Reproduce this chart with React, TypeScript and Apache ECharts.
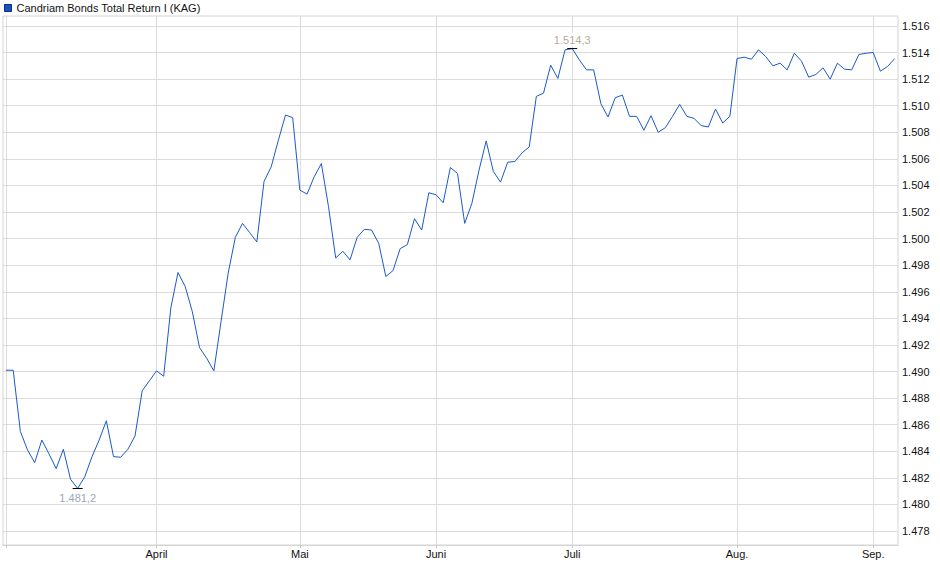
import React, { useEffect, useRef } from 'react';
import * as echarts from 'echarts';

const seriesName = 'Candriam Bonds Total Return I (KAG)';

// Daily prices (trading-day index 0..124)
const prices: number[] = [
  1490.1, 1490.1, 1485.5, 1484.1, 1483.15, 1484.85, 1483.8, 1482.7, 1484.15, 1481.9,
  1481.2, 1482.1, 1483.6, 1484.85, 1486.3, 1483.6, 1483.55, 1484.15, 1485.15, 1488.55,
  1489.3, 1490.05, 1489.65, 1494.8, 1497.45, 1496.4, 1494.5, 1491.8, 1491.0, 1490.05,
  1493.75, 1497.4, 1500.1, 1501.15, 1500.45, 1499.75, 1504.3, 1505.4, 1507.4, 1509.3,
  1509.1, 1503.65, 1503.35, 1504.65, 1505.65, 1502.4, 1498.55, 1499.05, 1498.4, 1500.1,
  1500.7, 1500.65, 1499.65, 1497.15, 1497.6, 1499.25, 1499.55, 1501.5, 1500.65, 1503.45,
  1503.3, 1502.7, 1505.35, 1504.9, 1501.15, 1502.65, 1505.15, 1507.35, 1505.05, 1504.25,
  1505.75, 1505.8, 1506.45, 1506.9, 1510.7, 1510.95, 1513.05, 1512.05, 1514.2, 1514.3,
  1513.45, 1512.7, 1512.7, 1510.15, 1509.15, 1510.6, 1510.8, 1509.2, 1509.2, 1508.15,
  1509.25, 1508.0, 1508.35, 1509.2, 1510.1, 1509.2, 1509.05, 1508.5, 1508.4, 1509.75,
  1508.7, 1509.2, 1513.55, 1513.65, 1513.5, 1514.2, 1513.7, 1513.0, 1513.2, 1512.7,
  1513.95, 1513.35, 1512.15, 1512.35, 1512.85, 1512.0, 1513.2, 1512.75, 1512.7, 1513.85,
  1513.95, 1514.0, 1512.6, 1512.95, 1513.55,
];

// Month boundaries (trading-day index) and their labels
const monthTickIdx: number[] = [0, 21, 41, 60, 79, 102, 121];
const monthLabels: string[] = ['', 'April', 'Mai', 'Juni', 'Juli', 'Aug.', 'Sep.'];

// Y-axis tick values
const yTicks: number[] = [
  1478, 1480, 1482, 1484, 1486, 1488, 1490, 1492, 1494, 1496,
  1498, 1500, 1502, 1504, 1506, 1508, 1510, 1512, 1514, 1516,
];

function groupDe(s: string): string {
  return s.replace(/\B(?=(\d{3})+(?!\d))/g, '.');
}
function fmtDe(v: number, d: number): string {
  const parts = v.toFixed(d).split('.');
  return groupDe(parts[0]) + (parts[1] ? ',' + parts[1] : '');
}

const FONT = '"Liberation Sans", Arial, Helvetica, sans-serif';
const GRID = '#dcdcdc';

export default function App() {
  const ref = useRef<HTMLDivElement>(null);
  useEffect(() => {
    if (!ref.current) return;
    const chart = echarts.init(ref.current, null, { renderer: 'svg' });
    const data = prices.map((v, i) => [i, v]);
    chart.setOption({
      animation: false,
      textStyle: { fontFamily: FONT },
      legend: {
        data: [seriesName],
        left: 4,
        top: 2.5,
        padding: 0,
        itemWidth: 7,
        itemHeight: 7,
        icon: 'rect',
        selectedMode: false,
        textStyle: { fontSize: 11, color: '#111', fontFamily: FONT },
        itemStyle: { color: '#1a52c0', borderColor: '#0b2d78', borderWidth: 1 },
      },
      grid: {
        left: 3,
        top: 16,
        right: 42,
        bottom: 34,
        show: true,
        borderColor: '#d4d4d4',
        borderWidth: 1,
        containLabel: false,
      },
      xAxis: {
        type: 'value',
        min: -0.42,
        max: 124.46,
        axisLine: { show: true, lineStyle: { color: '#d4d4d4' } },
        axisTick: {
          show: true,
          customValues: monthTickIdx,
          length: 3,
          lineStyle: { color: '#c8c8c8' },
        },
        axisLabel: {
          customValues: monthTickIdx.slice(1),
          formatter: (v: number) => {
            const k = monthTickIdx.indexOf(v);
            return k >= 0 ? monthLabels[k] : '';
          },
          fontSize: 11,
          color: '#111',
          margin: 3,
          fontFamily: FONT,
        },
        splitLine: { show: true, lineStyle: { color: GRID, width: 1 } },
      },
      yAxis: {
        type: 'value',
        position: 'right',
        min: 1476.95,
        max: 1516.75,
        axisLine: { show: false },
        axisTick: {
          show: true,
          customValues: yTicks,
          length: 2,
          lineStyle: { color: '#d4d4d4' },
        },
        axisLabel: {
          customValues: yTicks,
          formatter: (v: number) => fmtDe(v, 0),
          fontSize: 11,
          color: '#111',
          margin: 4,
          fontFamily: FONT,
        },
        splitLine: { show: true, lineStyle: { color: GRID, width: 1 } },
      },
      series: [
        {
          type: 'line',
          name: seriesName,
          data,
          showSymbol: false,
          symbol: 'none',
          lineStyle: { color: '#1a5ac8', width: 1 },
          itemStyle: { color: '#1a52c0' },
          markPoint: {
            silent: true,
            symbol: 'rect',
            symbolSize: [10, 1],
            itemStyle: { color: '#000' },
            data: [
              {
                type: 'min',
                label: {
                  show: true,
                  position: 'bottom',
                  distance: 2,
                  color: '#9aa6b8',
                  fontSize: 11,
                  fontFamily: FONT,
                  backgroundColor: '#fff',
                  padding: [1, 3],
                  formatter: (p: any) => fmtDe(Number(p.value), 1),
                },
              },
              {
                type: 'max',
                label: {
                  show: true,
                  position: 'top',
                  distance: 2,
                  color: '#b8aa9a',
                  fontSize: 11,
                  fontFamily: FONT,
                  backgroundColor: '#fff',
                  padding: [1, 3],
                  formatter: (p: any) => fmtDe(Number(p.value), 1),
                },
              },
            ],
          },
        },
      ],
    });
    return () => chart.dispose();
  }, []);
  return (
    <div
      ref={ref}
      style={{ position: 'absolute', left: 0, top: 0, width: 940, height: 579 }}
    />
  );
}
